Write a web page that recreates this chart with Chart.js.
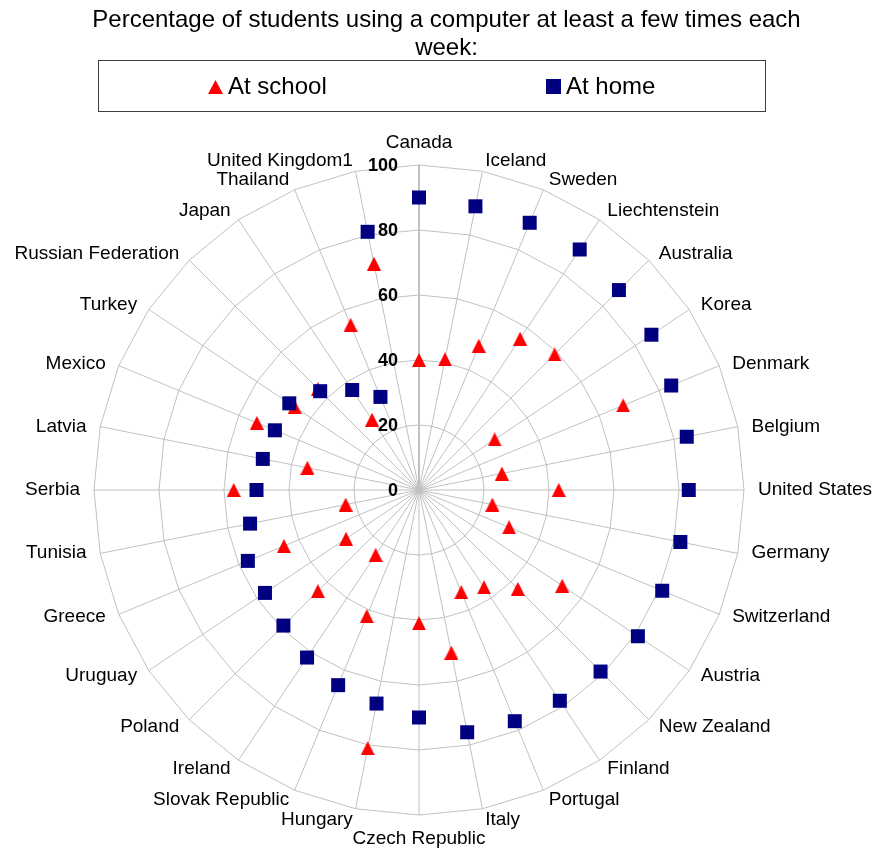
<!DOCTYPE html>
<html>
<head>
<meta charset="utf-8">
<script src="https://cdn.jsdelivr.net/npm/chart.js@4/dist/chart.umd.min.js"></script>
<style>
html,body{margin:0;padding:0;background:#ffffff;}
#wrap{width:878px;height:855px;position:relative;}
canvas{display:block;}
</style>
</head>
<body>
<div id="wrap"><canvas id="chart" width="878" height="855"></canvas></div>
<script>
// ---------- DATA ----------
const titleLines = ['Percentage of students using a computer at least a few times each', 'week:'];
const seriesNames = ['At school', 'At home'];
const countries = [
  'Canada', 'Iceland', 'Sweden', 'Liechtenstein', 'Australia', 'Korea', 'Denmark', 'Belgium',
  'United States', 'Germany', 'Switzerland', 'Austria', 'New Zealand', 'Finland', 'Portugal', 'Italy',
  'Czech Republic', 'Hungary', 'Slovak Republic', 'Ireland', 'Poland', 'Uruguay', 'Greece', 'Tunisia',
  'Serbia', 'Latvia', 'Mexico', 'Turkey', 'Russian Federation', 'Japan', 'Thailand', 'United Kingdom1'
];
const atSchool = [
  40, 41, 48, 56, 59, 28, 68, 26,
  43, 23, 30, 53, 43, 36, 34, 51,
  41, 81, 42, 24, 44, 27, 45, 23,
  57, 35, 54, 46, 44, 26, 55, 71
];
const atHome = [
  90, 89, 89, 89, 87, 86, 84, 84,
  83, 82, 81, 81, 79, 78, 77, 76,
  70, 67, 65, 62, 59, 57, 57, 53,
  50, 49, 48, 48, 43, 37, 31, 81
];
const tickValues = [0, 20, 40, 60, 80, 100];

// ---------- LAYOUT / STYLE ----------
const GEOM = { x: 419, y: 490, r: 325 };
const FONT = '"Liberation Sans", Arial, sans-serif';
const SCHOOL_COLOR = '#ff0000';
const HOME_COLOR = '#000080';
const GRID_COLOR = '#c0c0c0';

function makeTriangle(w, h, color) {
  const c = document.createElement('canvas');
  c.width = w; c.height = h;
  const g = c.getContext('2d');
  g.fillStyle = color;
  g.beginPath();
  g.moveTo(w / 2, 0);
  g.lineTo(w, h);
  g.lineTo(0, h);
  g.closePath();
  g.fill();
  return c;
}
const triMarker = makeTriangle(14, 14, SCHOOL_COLOR);
const triLegend = makeTriangle(15, 14, SCHOOL_COLOR);

// Fix radar geometry to the reference's centre and radius
const RadialScale = Chart.registry.getScale('radialLinear');
const origSetCenter = RadialScale.prototype.setCenterPoint;
RadialScale.prototype.setCenterPoint = function (a, b, c, d) {
  origSetCenter.call(this, a, b, c, d);
  this.xCenter = GEOM.x;
  this.yCenter = GEOM.y;
  this.drawingArea = GEOM.r;
};

// Tick labels (bold, placed left of the vertical spoke)
const tickTextPlugin = {
  id: 'tickText',
  beforeDatasetsDraw(chart) {
    const s = chart.scales.r;
    const ctx = chart.ctx;
    ctx.save();
    ctx.font = 'bold 18px ' + FONT;
    ctx.fillStyle = '#000';
    ctx.textAlign = 'right';
    ctx.textBaseline = 'middle';
    tickValues.forEach(v => {
      ctx.fillText(String(v), s.xCenter - 21, s.yCenter - s.getDistanceFromCenterForValue(v) + 1);
    });
    ctx.restore();
  }
};

// Category labels placed Excel-style around the outer ring
const catLabelPlugin = {
  id: 'catLabels',
  afterDraw(chart) {
    const s = chart.scales.r;
    const ctx = chart.ctx;
    ctx.save();
    ctx.font = '19px ' + FONT;
    ctx.fillStyle = '#000';
    const n = countries.length;
    countries.forEach((name, i) => {
      const deg = i * 360 / n;
      const p = s.getPointPosition(i, s.drawingArea + 14);
      if (deg === 0) {
        ctx.textAlign = 'center'; ctx.textBaseline = 'bottom';
        ctx.fillText(name, p.x, p.y + 1);
      } else if (deg === 180) {
        ctx.textAlign = 'center'; ctx.textBaseline = 'top';
        ctx.fillText(name, p.x, p.y);
      } else {
        ctx.textAlign = deg < 180 ? 'left' : 'right';
        ctx.textBaseline = 'middle';
        const dy = (deg < 90 || deg > 270) ? 3 : (deg > 90 && deg < 270 ? -3 : 0);
        ctx.fillText(name, p.x, p.y + dy);
      }
    });
    ctx.restore();
  }
};

// Boxed legend
const boxLegendPlugin = {
  id: 'boxLegend',
  afterDraw(chart) {
    const ctx = chart.ctx;
    ctx.save();
    ctx.strokeStyle = '#404040';
    ctx.lineWidth = 1;
    ctx.strokeRect(98.5, 60.5, 667, 51);
    const ds = chart.data.datasets;
    // At school
    ctx.drawImage(triLegend, 208, 80);
    // At home
    ctx.fillStyle = ds[1].pointBackgroundColor;
    ctx.fillRect(546, 79, 15, 15);
    ctx.fillStyle = '#000';
    ctx.font = '24px ' + FONT;
    ctx.textAlign = 'left';
    ctx.textBaseline = 'middle';
    ctx.fillText(ds[0].label, 228, 87);
    ctx.fillText(ds[1].label, 566, 87);
    ctx.restore();
  }
};

new Chart(document.getElementById('chart'), {
  type: 'radar',
  data: {
    labels: countries,
    datasets: [
      {
        label: seriesNames[0],
        data: atSchool,
        pointStyle: triMarker,
        pointRadius: 8,
        pointBackgroundColor: SCHOOL_COLOR,
        pointBorderColor: SCHOOL_COLOR,
        pointBorderWidth: 0,
        backgroundColor: SCHOOL_COLOR,
        borderColor: 'rgba(0,0,0,0)',
        borderWidth: 0,
        fill: false,
        showLine: false,
        clip: false,
        order: 1
      },
      {
        label: seriesNames[1],
        data: atHome,
        pointStyle: 'rect',
        pointRadius: 9.9,
        pointBackgroundColor: HOME_COLOR,
        pointBorderColor: HOME_COLOR,
        pointBorderWidth: 0,
        backgroundColor: HOME_COLOR,
        borderColor: 'rgba(0,0,0,0)',
        borderWidth: 0,
        fill: false,
        showLine: false,
        clip: false,
        order: 0
      }
    ]
  },
  options: {
    responsive: false,
    animation: false,
    devicePixelRatio: 1,
    layout: { padding: { left: 15, right: 0, top: 0, bottom: 0 } },
    plugins: {
      legend: { display: false },
      tooltip: { enabled: false },
      title: {
        display: true,
        text: titleLines,
        color: '#000',
        font: { family: FONT, size: 24, weight: 'normal', lineHeight: 1.17 },
        padding: { top: 6, bottom: 60 }
      }
    },
    scales: {
      r: {
        min: 0,
        max: 100,
        ticks: { stepSize: 20, display: false },
        grid: { color: GRID_COLOR, lineWidth: 1, circular: false },
        angleLines: {
          color: GRID_COLOR,
          lineWidth: ctx => (ctx.index === 0 ? 2 : 1)
        },
        pointLabels: { display: false }
      }
    }
  },
  plugins: [tickTextPlugin, catLabelPlugin, boxLegendPlugin]
});
</script>
</body>
</html>
